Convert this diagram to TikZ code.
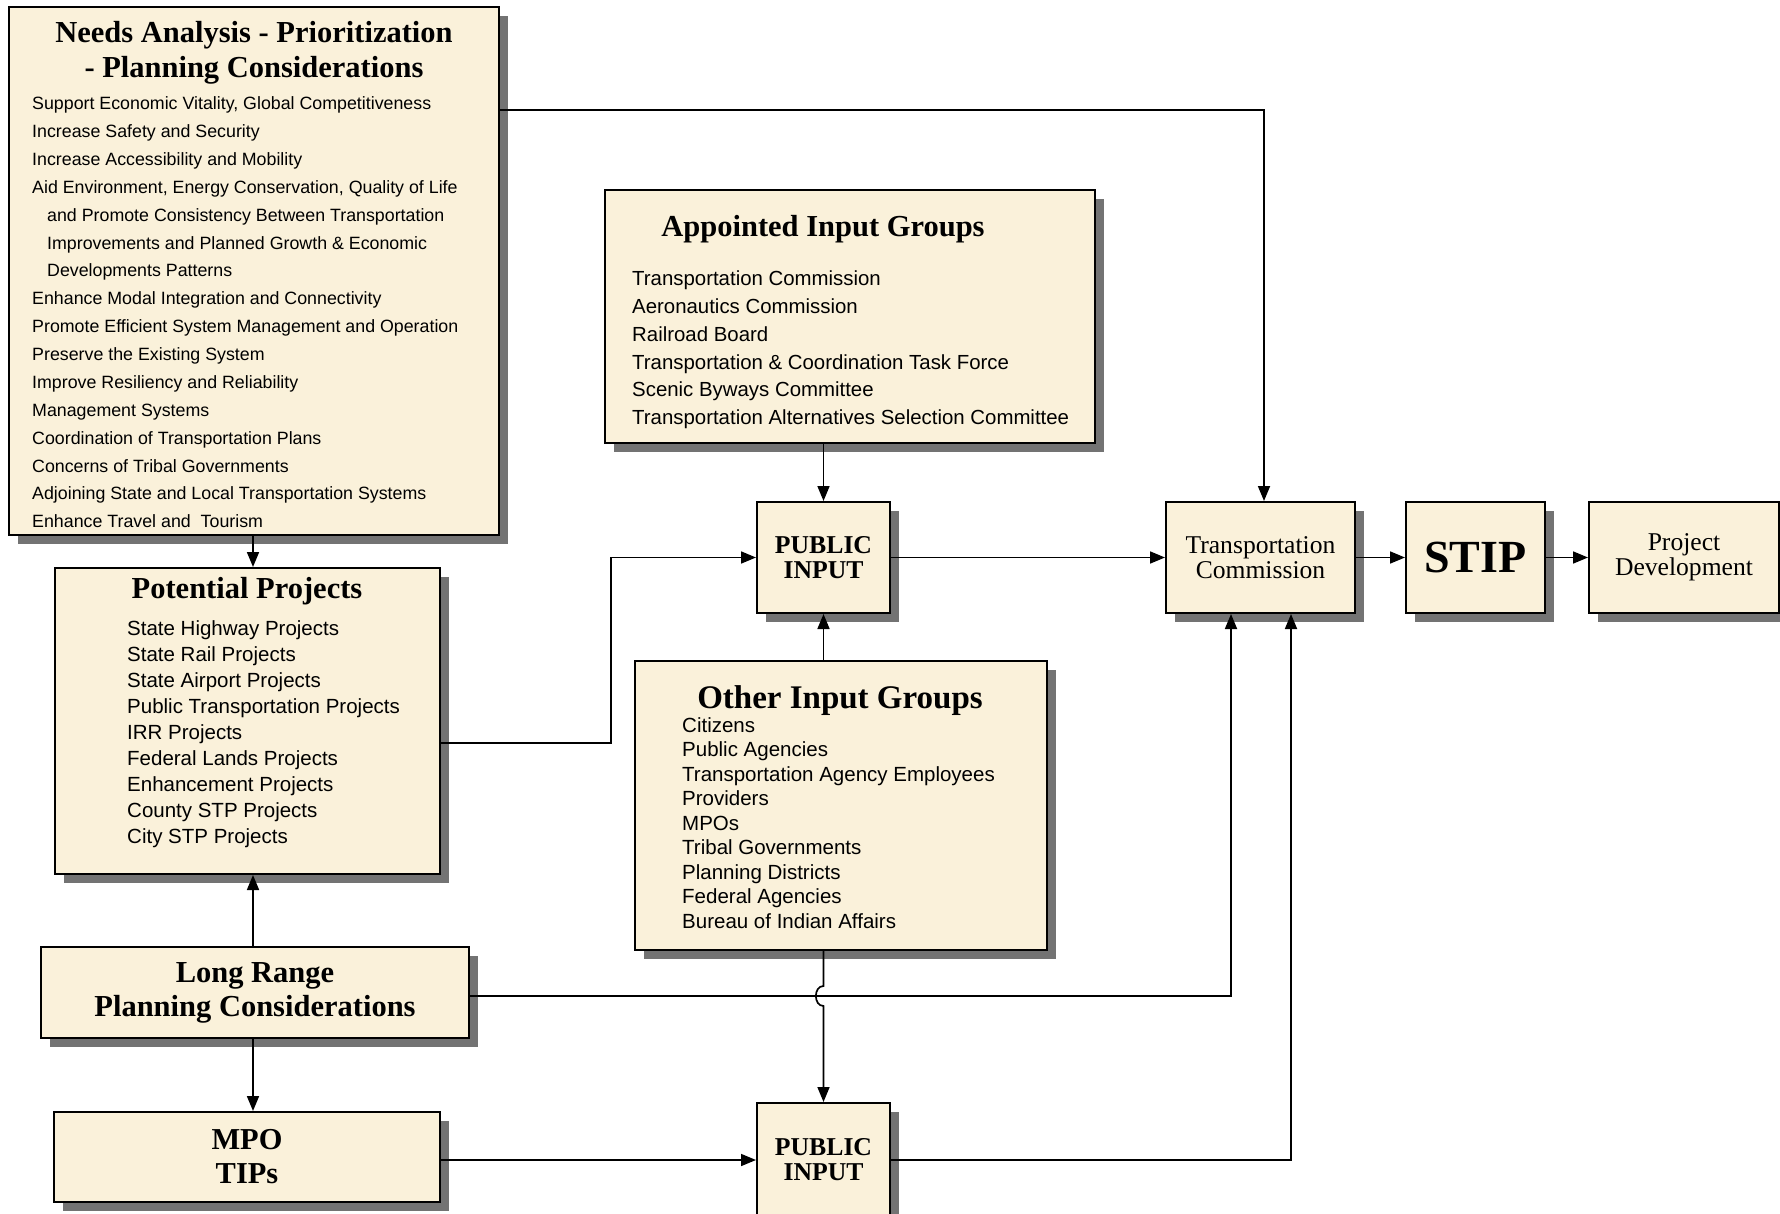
\documentclass[tikz,border=0pt]{standalone}
\usepackage{fontspec}
\setmainfont{Liberation Serif}
\setsansfont{Liberation Sans}
\usetikzlibrary{shadows,arrows.meta}
\definecolor{parchment}{RGB}{250,241,218}

\newcommand{\listfont}[2]{\sffamily\fontsize{#1}{#2}\selectfont}

\begin{document}
\begin{tikzpicture}[x=1pt, y=-1pt,
    box/.style = {draw, line width=2pt, fill=parchment, inner sep=0pt,
        drop shadow={shadow xshift=9pt, shadow yshift=-9pt, fill=black!55, opacity=1}},
    flow/.style = {line width=1.7pt, -{Triangle[length=15pt, width=12pt]}},
    head/.style = {font=\bfseries\fontsize{30.5}{35}\selectfont, inner sep=0pt},
    items/.style = {align=left, inner sep=0pt, anchor=north west},
    tag/.style = {align=center, font=\bfseries\fontsize{25.7}{25}\selectfont},
    plain/.style = {align=center, font=\fontsize{25.6}{25}\selectfont}]

    \path[use as bounding box, fill=white] (0,0) rectangle (1780,1214);

    % boxes
    \node[box, minimum width=490pt, minimum height=528pt] (needs) at (254,271) {};
    \node[box, minimum width=385pt, minimum height=306pt] (potential) at (247.5,721) {};
    \node[box, minimum width=490pt, minimum height=253pt] (appointed) at (850,316.5) {};
    \node[box, minimum width=412pt, minimum height=289pt] (other) at (841,805.5) {};
    \node[box, tag, minimum width=133pt, minimum height=111pt] (pi1) at (823.5,557.5) {PUBLIC\\INPUT};
    \node[box, plain, minimum width=189pt, minimum height=111pt] (tc) at (1260.5,557.5) {Transportation\\Commission};
    \node[box, minimum width=139pt, minimum height=111pt, font=\bfseries\fontsize{46}{46}\selectfont] (stip) at (1475.5,557.5) {STIP};
    \node[box, plain, minimum width=190pt, minimum height=111pt] (pd) at (1684,557.5) {Project\\Development};
    \node[box, align=center, font=\bfseries\fontsize{30.5}{34}\selectfont, minimum width=428pt, minimum height=91pt] (lr) at (255,992.5) {Long Range\\Planning Considerations};
    \node[box, align=center, font=\bfseries\fontsize{30.4}{34}\selectfont, minimum width=386pt, minimum height=90pt] (mpo) at (247,1157) {MPO\\TIPs};
    \node[box, tag, minimum width=133pt, minimum height=114pt] (pi2) at (823.5,1160) {PUBLIC\\INPUT};

    % box contents
    \node[head, align=center, anchor=north] (needshead) at (254,21.5) {Needs Analysis - Prioritization\\- Planning Considerations};
    \node[items, font=\listfont{17.8}{27.87}] (needslist) at (32,96.6) {Support Economic Vitality, Global Competitiveness\\
        Increase Safety and Security\\
        Increase Accessibility and Mobility\\
        Aid Environment, Energy Conservation, Quality of Life\\
        \hspace*{15pt}and Promote Consistency Between Transportation\\
        \hspace*{15pt}Improvements and Planned Growth \& Economic\\
        \hspace*{15pt}Developments Patterns\\
        Enhance Modal Integration and Connectivity\\
        Promote Efficient System Management and Operation\\
        Preserve the Existing System\\
        Improve Resiliency and Reliability\\
        Management Systems\\
        Coordination of Transportation Plans\\
        Concerns of Tribal Governments\\
        Adjoining State and Local Transportation Systems\\
        Enhance Travel and\ \ Tourism};

    \node[head, anchor=base] (pothead) at (247,598.4) {Potential Projects};
    \node[items, font=\listfont{20.5}{26}] (potlist) at (127,620.4) {State Highway Projects\\
        State Rail Projects\\
        State Airport Projects\\
        Public Transportation Projects\\
        IRR Projects\\
        Federal Lands Projects\\
        Enhancement Projects\\
        County STP Projects\\
        City STP Projects};

    \node[head, anchor=base] (apphead) at (823,236.3) {Appointed Input Groups};
    \node[items, font=\listfont{20.4}{27.9}] (applist) at (632,270.4) {Transportation Commission\\
        Aeronautics Commission\\
        Railroad Board\\
        Transportation \& Coordination Task Force\\
        Scenic Byways Committee\\
        Transportation Alternatives Selection Committee};

    \node[head, anchor=base, font=\bfseries\fontsize{33}{36}\selectfont] (othhead) at (840,708.2) {Other Input Groups};
    \node[items, font=\listfont{20.5}{24.5}] (othlist) at (682,717.4) {Citizens\\
        Public Agencies\\
        Transportation Agency Employees\\
        Providers\\
        MPOs\\
        Tribal Governments\\
        Planning Districts\\
        Federal Agencies\\
        Bureau of Indian Affairs};

    % connectors
    \coordinate (col) at (253,0);
    \coordinate (bend) at (611,557.5);
    \coordinate (hopin) at (823.5,986);
    \coordinate (hopout) at (823.5,1006);

    \draw[flow] ([yshift=-104pt]needs.north east) -| ([xshift=3.5pt]tc.north);
    \draw[flow] (pi1.north |- appointed.south) -- (pi1.north);
    \draw[flow] (pi1.south |- other.north) -- (pi1.south);
    \draw[flow] ([yshift=-22pt]potential.east) -| (bend) -- (pi1.west);
    \draw[flow] (pi1.east) -- (tc.west);
    \draw[flow] (tc.east) -- (stip.west);
    \draw[flow] (stip.east) -- (pd.west);
    \draw[flow] (needs.south -| col) -- (potential.north -| col);
    \draw[flow] (lr.north -| col) -- (potential.south -| col);
    \draw[flow] (lr.south -| col) -- (mpo.north -| col);
    \draw[flow] ([yshift=-3.5pt]lr.east) -| ([xshift=-29.5pt]tc.south);
    \draw[flow] (mpo.east |- pi2.west) -- (pi2.west);
    \draw[flow] (pi2.east) -| ([xshift=30.5pt]tc.south);
    \draw[flow] (pi2.north |- other.south) -- (hopin) to[out=180, in=180, looseness=1.3] (hopout) -- (pi2.north);

\end{tikzpicture}
\end{document}
